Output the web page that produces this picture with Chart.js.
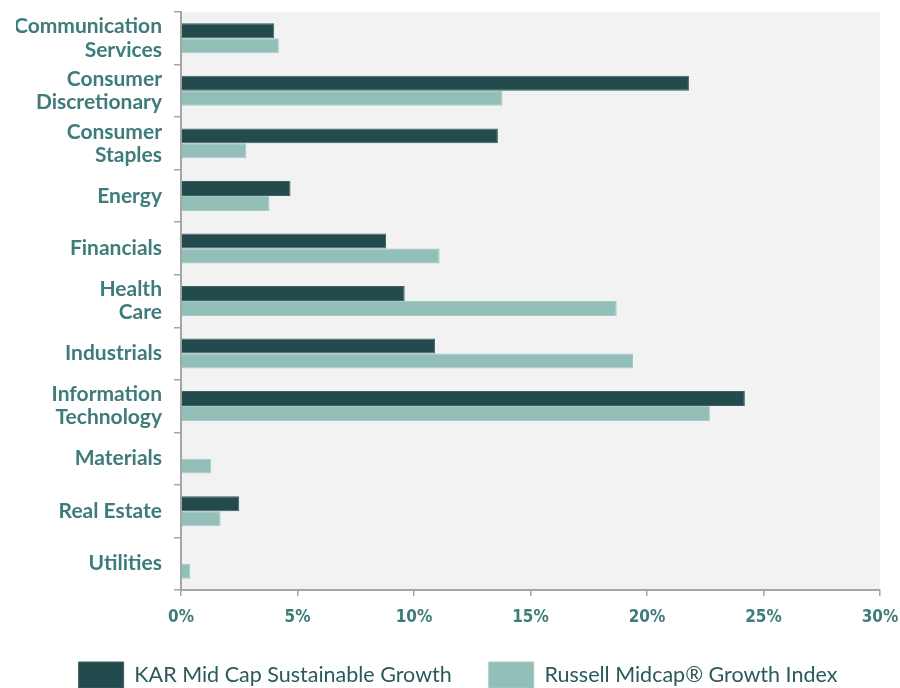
<!DOCTYPE html>
<html>
<head>
<meta charset="utf-8">
<script src="https://cdn.jsdelivr.net/npm/chart.js@4"></script>
<style>
  html, body { margin: 0; padding: 0; background: #ffffff; }
  #grafico { display: block; }
</style>
</head>
<body>
<canvas id="grafico" width="900" height="688"></canvas>
<script>
    var setores = [
        ["Communication", "Services"],
        ["Consumer", "Discretionary"],
        ["Consumer", "Staples"],
        "Energy",
        "Financials",
        ["Health", "Care"],
        "Industrials",
        ["Information", "Technology"],
        "Materials",
        "Real Estate",
        "Utilities"
    ];
    var valoresKar = [4.0, 21.8, 13.6, 4.7, 8.8, 9.6, 10.9, 24.2, 0, 2.5, 0];
    var valoresRussell = [4.2, 13.8, 2.8, 3.8, 11.1, 18.7, 19.4, 22.7, 1.3, 1.7, 0.4];
    var ticksX = [0, 5, 10, 15, 20, 25, 30];

    // fundo cinza da area do grafico
    var fundoPlugin = {
        id: 'fundo',
        beforeDraw: function (chart) {
            var a = chart.chartArea;
            var ctx = chart.ctx;
            ctx.save();
            ctx.fillStyle = '#f2f2f2';
            ctx.fillRect(a.left, a.top, a.right - a.left, a.bottom - a.top);
            ctx.restore();
        }
    };

    var dadosGrafico = {
        labels: setores,
        datasets: [{
            label: "KAR Mid Cap Sustainable Growth",
            data: valoresKar,
            backgroundColor: '#234a4c',
            borderColor: '#3c6264',
            borderWidth: 1,
            barPercentage: 1,
            categoryPercentage: 0.57
        }, {
            label: "Russell Midcap\u00AE Growth Index",
            data: valoresRussell,
            backgroundColor: '#93bfb9',
            borderColor: '#a6cbc6',
            borderWidth: 1,
            barPercentage: 1,
            categoryPercentage: 0.57
        }]
    };

    var configGrafico = {
        type: 'bar',
        data: dadosGrafico,
        plugins: [fundoPlugin],
        options: {
            indexAxis: 'y',
            responsive: false,
            animation: false,
            layout: {
                padding: { top: 12, right: 0, left: 16, bottom: -10 }
            },
            plugins: {
                tooltip: { enabled: false },
                legend: {
                    position: 'bottom',
                    labels: {
                        boxWidth: 45,
                        boxHeight: 26,
                        padding: 37,
                        color: '#2b5a5a',
                        font: { family: 'Lato', size: 21.5 }
                    }
                }
            },
            scales: {
                x: {
                    min: 0,
                    max: 30,
                    afterBuildTicks: function (scale) {
                        scale.ticks = ticksX.map(function (v) { return { value: v }; });
                    },
                    afterFit: function (scale) {
                        scale.height = 35;
                        scale.paddingRight = 20;
                    },
                    grid: {
                        drawOnChartArea: false,
                        drawTicks: true,
                        tickLength: 6,
                        color: '#a6a6a6',
                        lineWidth: 1.5
                    },
                    border: { color: '#a6a6a6', width: 2 },
                    ticks: {
                        padding: 11,
                        color: '#3d7c7a',
                        font: { family: 'DejaVu Sans Condensed', size: 17, weight: 'bold' },
                        callback: function (v) { return v + '%'; }
                    }
                },
                y: {
                    afterFit: function (scale) {
                        scale.width = 165;
                        scale.paddingTop = 0;
                        scale.paddingBottom = 0;
                    },
                    grid: {
                        drawOnChartArea: false,
                        drawTicks: true,
                        tickLength: 7,
                        color: '#a6a6a6',
                        lineWidth: 1.5
                    },
                    border: { color: '#a6a6a6', width: 2 },
                    ticks: {
                        padding: 12,
                        color: '#3d7c7a',
                        font: { family: 'Lato', size: 21, weight: 'bold', lineHeight: 1.1 }
                    }
                }
            }
        }
    };

    var grafico = new Chart(
        document.getElementById('grafico'),
        configGrafico
    );
</script>
</body>
</html>
